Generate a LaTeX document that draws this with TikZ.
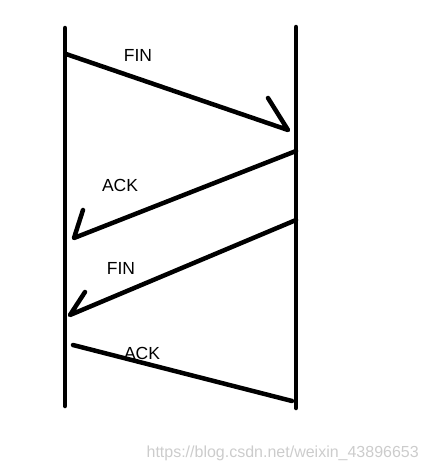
\documentclass[tikz,border=0pt]{standalone}
\usepackage{fontspec}
\setmainfont{Liberation Sans}
\begin{document}
\begin{tikzpicture}[x=1pt,y=-1pt,
  stroke/.style={line width=4.5pt,line cap=round,line join=round,black},
  msglabel/.style={font=\fontsize{17.5}{17.5}\selectfont,inner sep=0pt},
  watermark/.style={font=\fontsize{16}{16}\selectfont,text=black!20,inner sep=0pt,anchor=east}]
\useasboundingbox (0,0) rectangle (429,472);
% lifelines
\coordinate (LT) at (65,28);
\coordinate (LB) at (65,406);
\coordinate (RT) at (296,27);
\coordinate (RB) at (296,408);
\draw[stroke] (LT) -- (LB);
\draw[stroke] (RT) -- (RB);
% message 1: FIN
\coordinate (m1s) at (66,54);
\coordinate (m1e) at (288,130);
\coordinate (m1b) at (268,98);
\draw[stroke] (m1s) -- (m1e) -- (m1b);
\node[msglabel] (fin1) at (138,55) {FIN};
% message 2: ACK
\coordinate (m2s) at (296,151);
\coordinate (m2e) at (74,238);
\coordinate (m2b) at (83,210);
\draw[stroke] (m2s) -- (m2e) -- (m2b);
\node[msglabel] (ack1) at (120,185) {ACK};
% message 3: FIN
\coordinate (m3s) at (296,220);
\coordinate (m3e) at (70,315);
\coordinate (m3b) at (85,292);
\draw[stroke] (m3s) -- (m3e) -- (m3b);
\node[msglabel] (fin2) at (121,268) {FIN};
% message 4: ACK
\coordinate (m4s) at (73,345);
\coordinate (m4e) at (292,401);
\draw[stroke] (m4s) -- (m4e);
\node[msglabel] (ack2) at (142,353) {ACK};
% watermark
\node[watermark] (wm) at (419,453) {https://blog.csdn.net/weixin\_43896653};
\end{tikzpicture}
\end{document}
